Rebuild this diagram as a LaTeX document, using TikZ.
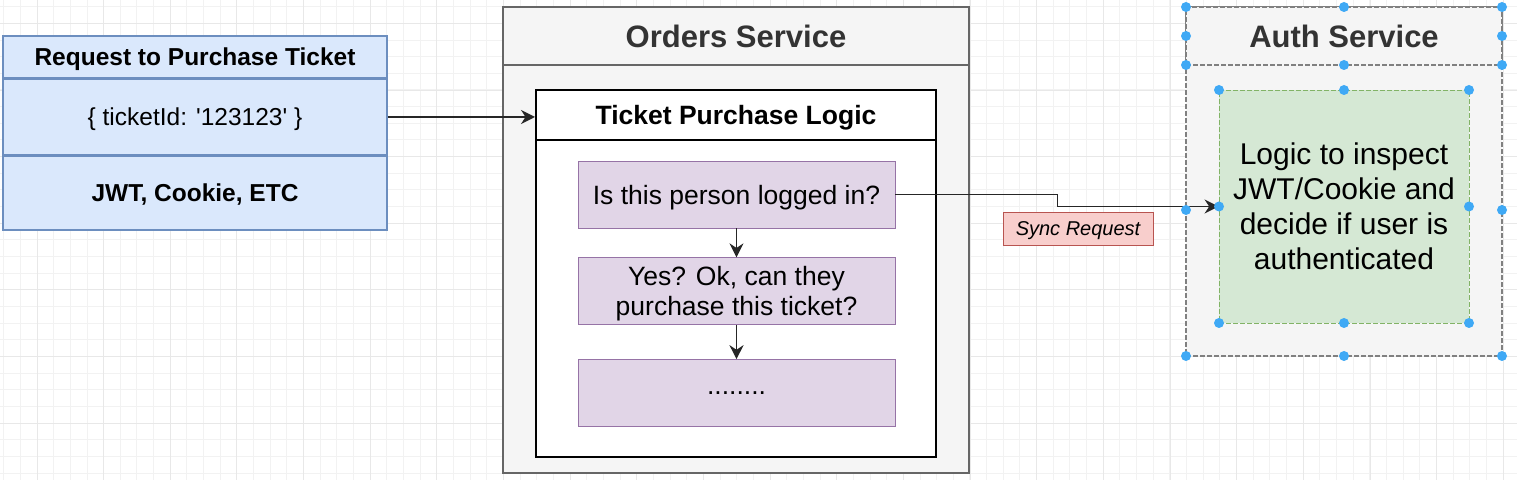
\documentclass[tikz,border=0pt]{standalone}
\usepackage{fontspec}
\setmainfont{Liberation Sans}
\usetikzlibrary{positioning,arrows.meta}
\definecolor{bluefill}{HTML}{DAE8FC}
\definecolor{blueline}{HTML}{6C8EBF}
\definecolor{grayfill}{HTML}{F5F5F5}
\definecolor{grayline}{HTML}{666666}
\definecolor{titlegray}{HTML}{333333}
\definecolor{purplefill}{HTML}{E1D5E7}
\definecolor{purpleline}{HTML}{9673A6}
\definecolor{greenfill}{HTML}{D5E8D4}
\definecolor{greenline}{HTML}{82B366}
\definecolor{redfill}{HTML}{F8CECC}
\definecolor{redline}{HTML}{B85450}
\definecolor{handleblue}{HTML}{3FA9F5}

\begin{document}
\begin{tikzpicture}[x=0.5pt,y=-0.5pt]
\tikzset{box/.style={draw,inner sep=0pt,align=center,text depth=0pt}}
\tikzset{reqbox/.style={box,draw=blueline,fill=bluefill,line width=0.75pt,minimum width=192pt,font=\fontsize{12.25}{14}\selectfont}}
\tikzset{svcbox/.style={box,draw=grayline,fill=grayfill,line width=0.75pt}}
\tikzset{svctitle/.style={text=titlegray,font=\bfseries\fontsize{15.5}{18}\selectfont}}
\tikzset{logicbox/.style={box,draw=black,fill=white,line width=1pt,minimum width=200pt}}
\tikzset{stepq/.style={box,draw=purpleline,fill=purplefill,minimum width=158.5pt,minimum height=33.5pt,font=\fontsize{13.25}{15}\selectfont}}
\tikzset{selected/.style={draw=gray,dash pattern=on 2.5pt off 1pt}}
\tikzset{conn/.style={draw=black!85,line width=0.9pt,-{Stealth[length=7pt,width=7pt]}}}
\tikzset{handle/.style={fill=handleblue}}
\useasboundingbox (0,0) rectangle (1517,480);
% grid
\fill[white] (0,0) rectangle (1517,480);
\foreach \i in {0,...,91} \draw[black!5,line width=0.5pt] ({3.7+16.66*\i},0) -- ({3.7+16.66*\i},480);
\foreach \j in {0,...,28} \draw[black!5,line width=0.5pt] (0,{6.7+16.66*\j}) -- (1517,{6.7+16.66*\j});
\foreach \i in {0,...,22} \draw[black!9,line width=0.5pt] ({37+66.65*\i},0) -- ({37+66.65*\i},480);
\foreach \j in {0,...,6} \draw[black!9,line width=0.5pt] (0,{23.4+66.65*\j}) -- (1517,{23.4+66.65*\j});

% request
\node[reqbox,minimum height=21pt,font=\bfseries\fontsize{12.25}{14}\selectfont] (reqhead) at (195,57) {Request to Purchase Ticket};
\node[reqbox,minimum height=37.5pt,below=0pt of reqhead] (reqbody) {\{ ticketId: \textquotesingle123123\textquotesingle\ \}};
\node[reqbox,minimum height=37pt,below=0pt of reqbody,font=\bfseries\fontsize{12.25}{14}\selectfont] (reqauth) {JWT, Cookie, ETC};

% orders service
\node[svcbox,minimum width=233pt,minimum height=233pt] (orders) at (736,240) {};
\node[svcbox,svctitle,minimum width=233pt,minimum height=29pt,anchor=north] (ordershead) at (orders.north) {Orders Service};
\node[logicbox,minimum height=183.5pt] (logic) at (736,273.5) {};
\node[logicbox,minimum height=25pt,anchor=north,font=\bfseries\fontsize{13.25}{15}\selectfont] (logichead) at (logic.north) {Ticket Purchase Logic};
\node[stepq] (q1) at (736.5,194.5) {Is this person logged in?};
\node[stepq,below=14.5pt of q1] (q2) {Yes? Ok, can they\\purchase this ticket?};
\node[stepq,below=17pt of q2] (q3) {........};

% auth service
\node[svcbox,selected,minimum width=158pt,minimum height=174.5pt] (auth) at (1344,181.5) {};
\node[svcbox,svctitle,selected,minimum width=158pt,minimum height=29pt,anchor=north] (authhead) at (auth.north) {Auth Service};
\node[box,draw=greenline,dash pattern=on 2.5pt off 1pt,fill=greenfill,minimum width=125pt,minimum height=116.5pt,font=\fontsize{15}{17.5}\selectfont] (check) at (1344,206.5) {Logic to inspect\\JWT/Cookie and\\decide if user is\\authenticated};

\node[box,draw=redline,fill=redfill,minimum width=75pt,minimum height=16.5pt,font=\itshape\fontsize{10}{12}\selectfont] (sync) at (1078,228.5) {Sync Request};

% connectors
\draw[conn] (reqbody.east) -- (reqbody.east -| logichead.west);
\draw[conn] (q1) -- (q2);
\draw[conn] (q2) -- (q3);
\draw[conn] (q1.east) -- ++(162,0) |- (check.west);

% selection handles
\foreach \x/\y in {1186/7,1344/7,1502/7,1186/36,1502/36,1186/65,1344/65,1502/65,1186/210,1502/210,1186/356,1344/356,1502/356,1219/90,1344/90,1469/90,1219/206.5,1469/206.5,1219/323,1344/323,1469/323}
  \fill[handle] (\x,\y) circle (2.5pt);
\end{tikzpicture}
\end{document}
